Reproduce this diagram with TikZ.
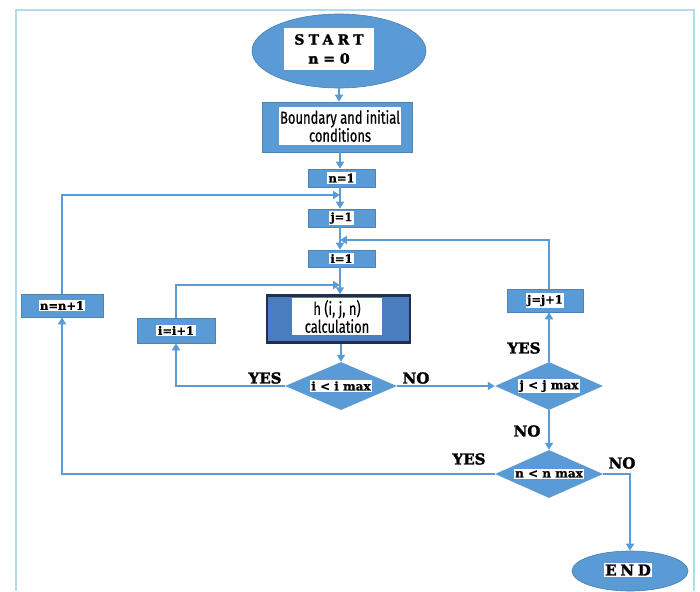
\documentclass[tikz,border=0pt]{standalone}
\usepackage{fontspec}
\usetikzlibrary{shapes.geometric,arrows.meta}
\newfontfamily\labfont[BoldFeatures={FakeBold=0.8}]{DejaVu Serif}
\newfontfamily\heavyfont[BoldFeatures={FakeBold=2}]{DejaVu Serif}
\newfontfamily\condfont[FakeStretch=0.74,FakeBold=0.5]{Fira Sans}
\definecolor{bluef}{HTML}{5B9BD5}
\definecolor{bluel}{HTML}{5B9BD5}
\definecolor{hfill}{HTML}{4A7CC0}
\definecolor{hbord}{HTML}{1F2F4F}
\definecolor{framec}{HTML}{B0DCEC}
\tikzset{
  blk/.style={rectangle, fill=bluef, draw=bluef!85!black, line width=0.6pt, inner sep=0pt},
  wbox/.style={rectangle, fill=white, inner sep=1.5pt},
  dia/.style={diamond, fill=bluef, inner sep=0pt, minimum width=108pt, minimum height=48pt, aspect=2.25},
  ell/.style={ellipse, fill=bluef, draw=bluef!80!black, line width=0.6pt, inner sep=0pt},
  arr/.style={draw=bluel, line width=2pt, -{Triangle[length=7pt,width=8pt]}},
  yn/.style={font=\heavyfont\bfseries\fontsize{15}{15}\selectfont, text=black, inner sep=0pt},
  sm/.style={font=\labfont\bfseries\fontsize{11.5}{11.5}\selectfont},
  dsm/.style={font=\labfont\bfseries\fontsize{12}{12}\selectfont},
  cnd/.style={font=\condfont\fontsize{17.5}{18}\selectfont, align=center}
}
\begin{document}
\begin{tikzpicture}[x=1pt,y=-1pt]
\useasboundingbox (0,0) rectangle (700,591);
% frame
\draw[framec, line width=2pt] (16,591) -- (16,10) -- (694,10) -- (694,591);

% start
\node[ell, minimum width=174pt, minimum height=74pt] (start) at (339,51) {};
\node[wbox, minimum width=90pt, minimum height=42pt, align=center,
      font=\heavyfont\bfseries\fontsize{14}{19}\selectfont] (startt) at (329,49)
      {\addfontfeatures{LetterSpace=30}START\\ n = 0};

% boundary
\node[blk, minimum width=150pt, minimum height=50pt] (bound) at (337,127) {};
\node[wbox, minimum width=120pt, minimum height=38pt, cnd] (boundt) at (340,126)
      {Boundary and initial\\ conditions};

% n=1, j=1, i=1
\node[blk, minimum width=67pt, minimum height=18pt] (n1) at (341.5,178) {};
\node[blk, minimum width=67pt, minimum height=18pt] (j1) at (341.5,218) {};
\node[blk, minimum width=67pt, minimum height=17pt] (i1) at (341.5,258.5) {};
\node[wbox, sm] (n1t) at (n1) {n=1};
\node[wbox, sm] (j1t) at (j1) {j=1};
\node[wbox, sm] (i1t) at (i1) {i=1};

% h calculation
\node[rectangle, fill=hfill, draw=hbord, line width=2.5pt, minimum width=143pt, minimum height=47pt] (h) at (338.5,319) {};
\node[wbox, minimum width=90pt, minimum height=37pt, cnd] (ht) at (337,316.5) {h (i, j, n)\\ calculation};

% increments
\node[blk, minimum width=78pt, minimum height=25pt] (ii) at (176,330.5) {};
\node[wbox, sm] (iit) at (ii) {i=i+1};
\node[blk, minimum width=82pt, minimum height=23pt] (nn) at (62,305.5) {};
\node[wbox, sm] (nnt) at (nn) {n=n+1};
\node[blk, minimum width=76pt, minimum height=23pt] (jj) at (545,300.5) {};
\node[wbox, sm] (jjt) at (jj) {j=j+1};

% decisions
\node[dia, minimum width=112pt] (di) at (341,386) {};
\node[wbox, dsm] (dit) at (di) {i < i max};
\node[dia] (dj) at (549,386) {};
\node[wbox, dsm] (djt) at (dj) {j < j max};
\node[dia] (dn) at (549,474) {};
\node[wbox, dsm] (dnt) at (dn) {n < n max};

% end
\node[ell, minimum width=116pt, minimum height=40pt] (end) at (630,571) {};
\node[wbox, font=\heavyfont\bfseries\fontsize{15}{15}\selectfont] (endt) at (628,570) {\addfontfeatures{LetterSpace=25}END};

% merge points
\coordinate (mn) at (340,195);
\coordinate (mj) at (340,240);
\coordinate (mi) at (340,285);

% main flow
\draw[arr] (start.south) -- (start.south |- bound.north);
\draw[arr] (bound.south -| mn) -- (n1.north -| mn);
\draw[arr] (n1.south -| mn) -- (j1.north -| mn);
\draw[arr] (j1.south -| mn) -- (i1.north -| mn);
\draw[arr] (i1.south -| mn) -- (h.north -| mn);
\draw[arr] (h.south -| di) -- (di.north);

% loops
\draw[arr] (di.west) -| (ii.south);
\draw[arr] (ii.north) |- (mi);
\draw[arr] (di.east) -- (dj.west);
\draw[arr] (dj.north) -- (dj.north |- jj.south);
\draw[arr] (dj.north |- jj.north) |- (mj);
\draw[arr] (dj.south) -- (dn.north);
\draw[arr] (dn.west) -| (nn.south);
\draw[arr] (nn.north) |- (mn);
\draw[arr] (dn.east) -| (end.north);

% labels
\node[yn] (ly1) at (265,378) {YES};
\node[yn] (ln1) at (416,378) {NO};
\node[yn] (ly2) at (524,348) {YES};
\node[yn] (ln2) at (527,431) {NO};
\node[yn] (ly3) at (469,459) {YES};
\node[yn] (ln3) at (622,463) {NO};
\end{tikzpicture}
\end{document}
